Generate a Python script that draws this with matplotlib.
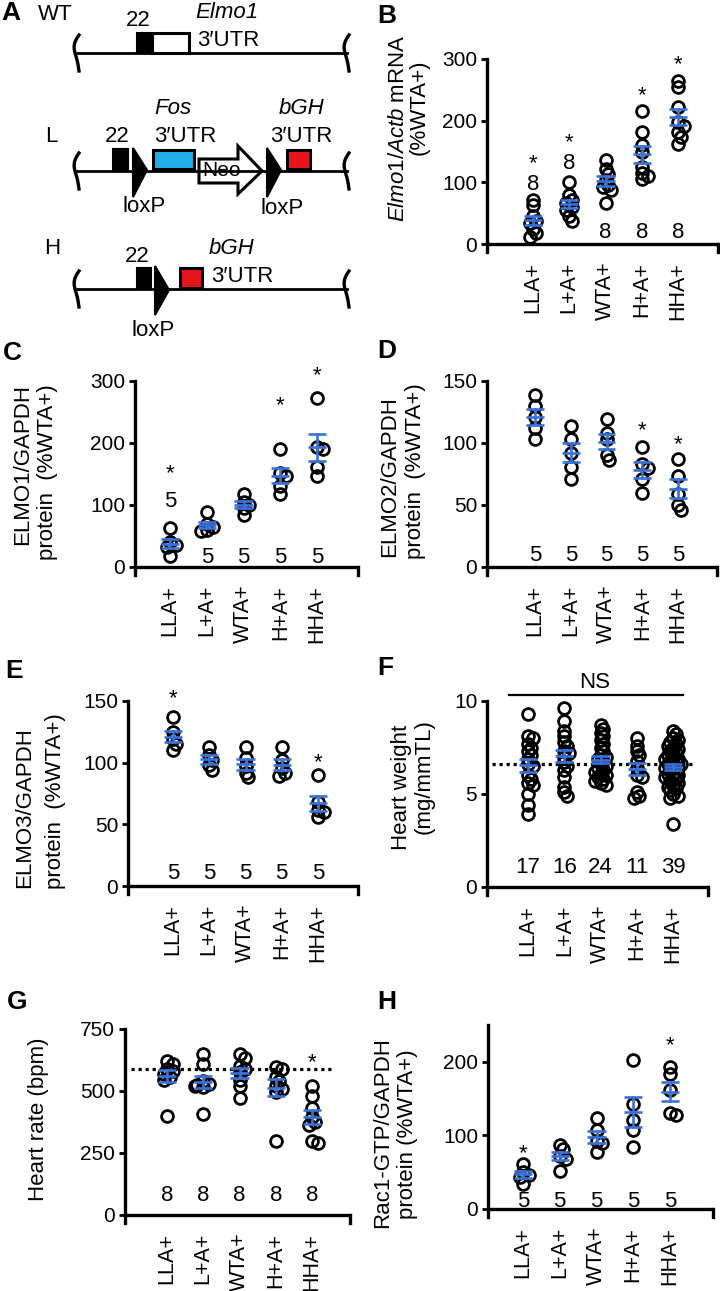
import numpy as np
import matplotlib
matplotlib.use("Agg")
import matplotlib.pyplot as plt
from matplotlib.patches import Rectangle, Polygon

plt.rcParams["font.family"] = ["Liberation Sans", "DejaVu Sans"]
plt.rcParams["mathtext.fontset"] = "custom"
plt.rcParams["mathtext.rm"] = "Liberation Sans"
plt.rcParams["mathtext.it"] = "Liberation Sans:italic"

W, H = 720, 1291
BLUE = "#3872DA"
GROUPS = ["LLA+", "L+A+", "WTA+", "H+A+", "HHA+"]

# B: Elmo1/Actb mRNA
elmo1_mrna = [
    [72, 63, 45, 38, 34, 25, 18, 12],
    [100, 80, 72, 66, 60, 55, 46, 38],
    [137, 122, 114, 104, 96, 93, 88, 66],
    [215, 182, 160, 150, 125, 115, 110, 106],
    [265, 255, 222, 198, 192, 182, 174, 162],
]
elmo1_mrna_n = ["8", "8", "8", "8", "8"]
elmo1_mrna_n_y = [101, 134, 23, 23, 23]
elmo1_mrna_star = [142, 177, None, 252, 303]

# C: ELMO1 protein
elmo1_prot = [
    [63, 40, 35, 32, 18],
    [88, 69, 65, 60, 58],
    [117, 105, 100, 95, 84],
    [190, 152, 146, 130, 118],
    [272, 194, 190, 162, 147],
]
elmo1_prot_n = ["5", "5", "5", "5", "5"]
elmo1_prot_n_y = [110, 19, 19, 19, 19]
elmo1_prot_star = [162, None, None, 272, 320]

# D: ELMO2 protein
elmo2_prot = [
    [139, 130, 121, 112, 103],
    [114, 103, 92, 81, 71],
    [119, 108, 103, 90, 86],
    [97, 83, 80, 71, 60],
    [87, 73, 59, 50, 46],
]
elmo2_prot_n = ["5", "5", "5", "5", "5"]
elmo2_prot_n_y = [11, 11, 11, 11, 11]
elmo2_prot_star = [None, None, None, 116, 105]

# E: ELMO3 protein
elmo3_prot = [
    [137, 125, 119, 115, 110],
    [113, 106, 102, 98, 94],
    [113, 104, 97, 92, 88],
    [113, 102, 96, 92, 89],
    [90, 68, 62, 60, 56],
]
elmo3_prot_n = ["5", "5", "5", "5", "5"]
elmo3_prot_n_y = [12, 12, 12, 12, 12]
elmo3_prot_star = [158, None, None, None, 106]

# F: heart weight
heart_weight = [
    [9.3, 8.1, 8.0, 7.7, 7.5, 7.3, 7.1, 6.9, 6.6, 6.5, 6.0, 5.8, 5.6, 5.5, 5.0, 4.4, 3.9],
    [9.6, 8.9, 8.4, 8.1, 7.8, 7.6, 7.3, 7.2, 7.0, 6.7, 6.5, 6.3, 5.9, 5.4, 5.1, 4.9],
    [8.7, 8.5, 8.3, 8.1, 7.9, 7.7, 7.5, 7.3, 7.1, 7.0, 6.9, 6.8, 6.6, 6.5, 6.4, 6.3,
     6.2, 6.1, 6.0, 5.9, 5.8, 5.7, 5.6, 5.5],
    [8.0, 7.6, 7.3, 7.1, 6.8, 6.4, 6.0, 5.9, 5.1, 4.9, 4.8],
    [8.4, 8.2, 8.0, 7.9, 7.8, 7.7, 7.6, 7.5, 7.4, 7.3, 7.2, 7.1, 7.0, 6.9, 6.9, 6.8,
     6.7, 6.6, 6.6, 6.5, 6.4, 6.4, 6.3, 6.2, 6.1, 6.0, 6.0, 5.9, 5.8, 5.7, 5.6, 5.5,
     5.4, 5.3, 5.2, 5.0, 4.9, 4.8, 3.4],
]
heart_weight_n = ["17", "16", "24", "11", "39"]
heart_weight_n_y = [1.2, 1.2, 1.2, 1.2, 1.2]
heart_weight_star = [None, None, None, None, None]
heart_weight_ref = 6.6

# G: heart rate
heart_rate = [
    [620, 610, 590, 580, 570, 555, 545, 400],
    [648, 610, 540, 530, 525, 520, 515, 408],
    [648, 635, 600, 590, 578, 545, 520, 470],
    [598, 590, 558, 540, 520, 510, 497, 298],
    [520, 478, 430, 395, 375, 362, 298, 292],
]
heart_rate_n = ["8", "8", "8", "8", "8"]
heart_rate_n_y = [87, 87, 87, 87, 87]
heart_rate_star = [None, None, None, None, 645]
heart_rate_ref = 589

# H: Rac1-GTP
rac1_gtp = [
    [61, 50, 46, 44, 34],
    [87, 81, 72, 68, 52],
    [123, 108, 92, 89, 78],
    [203, 143, 121, 107, 84],
    [193, 183, 162, 131, 128],
]
rac1_gtp_n = ["5", "5", "5", "5", "5"]
rac1_gtp_n_y = [13, 13, 13, 13, 13]
rac1_gtp_star = [85, None, None, None, 232]


def swarm(vals, sx, sy, diam=5.0, step=0.08):
    vals = np.asarray(vals, dtype=float)
    offs = np.zeros(len(vals))
    placed = []
    for idx in np.argsort(-vals):
        y = vals[idx] * sy
        for k in [0, 1, -1, 2, -2, 3, -3]:
            x = k * step * sx
            if all((x - px) ** 2 + (y - py) ** 2 >= diam ** 2 for px, py in placed):
                break
        placed.append((x, y))
        offs[idx] = k * step
    return offs


def scatter_panel(fig, box, ymax, yticks, data, n_labels, n_y, stars, ref=None, diam=5.0, step=0.08):
    xs, c0, c4, xr, ytop, y0 = box
    ext = 8
    spacing = (c4 - c0) / 4.0
    ppu = (y0 - ytop) / ymax
    ax = fig.add_axes([xs / W, 1 - (y0 + ext) / H, (xr - xs) / W, (y0 + ext - ytop) / H])
    x_lo = -(c0 - xs) / spacing
    x_hi = 4 + (xr - c4) / spacing
    ax.set_xlim(x_lo, x_hi)
    ax.set_ylim(-ext / ppu, ymax)
    for s in ["top", "right", "bottom"]:
        ax.spines[s].set_visible(False)
    ax.spines["left"].set_linewidth(2.4)
    ax.plot([x_lo, x_hi], [0, 0], color="black", lw=2.4, clip_on=False, solid_capstyle="butt")
    ax.plot([x_hi, x_hi], [0, -ext / ppu], color="black", lw=2.4, clip_on=False)
    ax.set_yticks(yticks)
    ax.set_yticklabels([str(t) for t in yticks])
    ax.tick_params(axis="y", direction="out", length=4, width=2, labelsize=15, pad=3)
    ax.set_xticks(range(len(GROUPS)))
    ax.set_xticklabels(GROUPS, rotation=90, va="top", ha="center")
    ax.tick_params(axis="x", length=0, labelsize=15.5, pad=7)

    if ref is not None:
        ax.plot([-1.0, 4.6], [ref, ref], color="black", lw=2.3, linestyle=(0, (1, 1.2)), zorder=1)

    for i, vals in enumerate(data):
        offs = swarm(vals, spacing, ppu, diam=diam, step=step)
        ax.plot(i + offs, vals, "o", ms=8.5, mfc="none", mec="black", mew=2.0, zorder=3, clip_on=False)
        m = np.mean(vals)
        sem = np.std(vals, ddof=1) / np.sqrt(len(vals))
        hw = 0.25
        for yy in (m - sem, m, m + sem):
            ax.plot([i - hw, i + hw], [yy, yy], color=BLUE, lw=1.9, zorder=4, solid_capstyle="butt")
        ax.plot([i, i], [m - sem, m + sem], color=BLUE, lw=1.9, zorder=4)
        ax.annotate(n_labels[i], (i, n_y[i]), xytext=(0, -5.8), textcoords="offset points",
                    ha="center", va="baseline", fontsize=16, annotation_clip=False)
        if stars[i] is not None:
            ax.annotate("*", (i, stars[i]), xytext=(0, -9.3), textcoords="offset points",
                        ha="center", va="baseline", fontsize=16, annotation_clip=False)
    return ax


def ftext(fig, x, y, s, **kw):
    fig.text(x / W, 1 - y / H, s, **kw)


def bracket(ax, xc, yc):
    t = np.linspace(-1, 1, 60)
    x = xc + 4 * t ** 2 - 2 + 1.5 * np.sin(np.pi * t)
    y = yc + 18 * t
    ax.plot(x, y, color="black", lw=2.4)


def gene_line(ax, y):
    ax.plot([77, 347], [y, y], color="black", lw=2.0)
    bracket(ax, 77, y)
    bracket(ax, 347, y)


def loxp(ax, x, ytop, ybot, ytip):
    ax.add_patch(Polygon([(x, ytop), (x, ybot), (x + 14, ytip)], closed=True, fc="black", ec="black", lw=1.5))


fig = plt.figure(figsize=(W / 100, H / 100), dpi=100)

# panel A schematic
axa = fig.add_axes([0, 1 - 340 / H, 360 / W, 340 / H])
axa.set_xlim(0, 360)
axa.set_ylim(340, 0)
axa.axis("off")
ts = dict(fontsize=16, ha="center", va="center")

gene_line(axa, 53)
axa.add_patch(Rectangle((137, 33), 15, 20, fc="black", ec="black", lw=1.5))
axa.add_patch(Rectangle((152, 33), 37, 20, fc="white", ec="black", lw=2.2))
axa.text(138, 21, "22", **ts)
axa.text(227, 13, "Elmo1", style="italic", **ts)
axa.text(228, 41, "3\u2032UTR", **ts)
axa.text(38, 14, "WT", fontsize=16, ha="left", va="center")

gene_line(axa, 171)
axa.add_patch(Rectangle((113, 149), 15, 21, fc="black", ec="black", lw=1.5))
loxp(axa, 133, 148, 197, 170)
axa.add_patch(Rectangle((153, 150), 41, 19, fc="#1FAEE8", ec="black", lw=2.2))
axa.add_patch(Polygon([(199, 159), (238, 159), (238, 146), (262, 171), (238, 194), (238, 183), (199, 183)],
                      closed=True, fc="white", ec="black", lw=2.2))
axa.text(221, 171, "Neo", fontsize=15, ha="center", va="center")
loxp(axa, 267, 148, 197, 170)
axa.add_patch(Rectangle((287, 150), 23, 19, fc="#E8141B", ec="black", lw=2.2))
axa.text(51, 137, "L", **ts)
axa.text(117, 137, "22", **ts)
axa.text(173, 108, "Fos", style="italic", **ts)
axa.text(185, 136, "3\u2032UTR", **ts)
axa.text(302, 108, "bGH", style="italic", **ts)
axa.text(301, 136, "3\u2032UTR", **ts)
axa.text(144, 206, "loxP", **ts)
axa.text(282, 208, "loxP", **ts)

gene_line(axa, 289)
axa.add_patch(Rectangle((137, 268), 14, 20, fc="black", ec="black", lw=1.5))
loxp(axa, 155, 266, 315, 290)
axa.add_patch(Rectangle((180, 268), 22, 20, fc="#E8141B", ec="black", lw=2.2))
axa.text(52, 248, "H", **ts)
axa.text(137, 257, "22", **ts)
axa.text(232, 248, "bGH", style="italic", **ts)
axa.text(242, 277, "3\u2032UTR", **ts)
axa.text(153, 330, "loxP", **ts)

# scatter panels
scatter_panel(fig, (487, 533, 678, 718, 59, 244), 300, [0, 100, 200, 300],
              elmo1_mrna, elmo1_mrna_n, elmo1_mrna_n_y, elmo1_mrna_star)
scatter_panel(fig, (135, 170, 317, 358, 381, 567), 300, [0, 100, 200, 300],
              elmo1_prot, elmo1_prot_n, elmo1_prot_n_y, elmo1_prot_star)
scatter_panel(fig, (487, 535, 678, 717, 381, 567), 150, [0, 50, 100, 150],
              elmo2_prot, elmo2_prot_n, elmo2_prot_n_y, elmo2_prot_star)
scatter_panel(fig, (128, 173, 318, 358, 701, 886), 150, [0, 50, 100, 150],
              elmo3_prot, elmo3_prot_n, elmo3_prot_n_y, elmo3_prot_star)
axf = scatter_panel(fig, (487, 528, 673, 708, 701, 887), 10, [0, 5, 10],
                    heart_weight, heart_weight_n, heart_weight_n_y, heart_weight_star,
                    ref=heart_weight_ref, diam=4.5, step=0.07)
axf.plot([-0.52, 4.28], [10.32, 10.32], color="black", lw=1.6, clip_on=False)
axf.text(1.85, 11.0, "NS", fontsize=16, ha="center", va="center", clip_on=False)
scatter_panel(fig, (125, 167, 312, 350, 1029, 1215), 750, [0, 250, 500, 750],
              heart_rate, heart_rate_n, heart_rate_n_y, heart_rate_star, ref=heart_rate_ref)
scatter_panel(fig, (488, 523, 670, 713, 1025, 1209), 250, [0, 100, 200],
              rac1_gtp, rac1_gtp_n, rac1_gtp_n_y, rac1_gtp_star)

# y labels
yl = dict(fontsize=16, rotation=90, ha="center", va="center")
ftext(fig, 398, 128, r"$\mathit{Elmo1/Actb}$ mRNA", **yl)
ftext(fig, 419, 107, "(%WTA+)", **yl)
ftext(fig, 23, 465, "ELMO1/GAPDH", **yl)
ftext(fig, 48, 472, "protein  (%WTA+)", **yl)
ftext(fig, 390, 477, "ELMO2/GAPDH", **yl)
ftext(fig, 416, 471, "protein  (%WTA+)", **yl)
ftext(fig, 25, 808, "ELMO3/GAPDH", **yl)
ftext(fig, 56, 801, "protein  (%WTA+)", **yl)
ftext(fig, 401, 787, "Heart weight", **yl)
ftext(fig, 424, 777, "(mg/mmTL)", **yl)
ftext(fig, 39, 1119, "Heart rate (bpm)", **yl)
ftext(fig, 383, 1133, "Rac1-GTP/GAPDH", **yl)
ftext(fig, 407, 1134, "protein (%WTA+)", **yl)

# panel letters
pl = dict(fontsize=19, fontweight="bold", ha="left", va="center")
ftext(fig, 1, 13, "A", **pl)
ftext(fig, 377, 16, "B", **pl)
ftext(fig, 3, 353, "C", **pl)
ftext(fig, 377, 351, "D", **pl)
ftext(fig, 5, 671, "E", **pl)
ftext(fig, 377, 668, "F", **pl)
ftext(fig, 7, 1002, "G", **pl)
ftext(fig, 377, 1002, "H", **pl)

fig.savefig("out.png", dpi=100)
